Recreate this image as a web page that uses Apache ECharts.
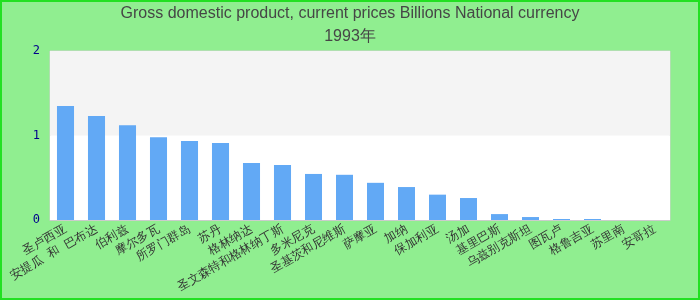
<!DOCTYPE html>
<html>
<head>
<meta charset="utf-8">
<script src="https://cdn.jsdelivr.net/npm/echarts@6/dist/echarts.min.js"></script>
<style>
  html, body { margin: 0; padding: 0; }
  #wrap { position: relative; width: 700px; height: 300px; }
  #chart { position: absolute; left: 0; top: 0; width: 700px; height: 300px; }
  #frame { position: absolute; left: 0; top: 0; width: 700px; height: 300px; box-sizing: border-box; border: 2px solid #22e022; pointer-events: none; }
</style>
</head>
<body>
<div id="wrap"><div id="chart"></div><div id="frame"></div></div>
<script>
const titleText = "Gross domestic product, current prices Billions National currency\n1993年";
const categories = [
  "圣卢西亚", "安提瓜 和 巴布达", "伯利兹", "摩尔多瓦", "所罗门群岛",
  "苏丹", "格林纳达", "圣文森特和格林纳丁斯", "多米尼克", "圣基茨和尼维斯",
  "萨摩亚", "加纳", "保加利亚", "汤加", "基里巴斯",
  "乌兹别克斯坦", "图瓦卢", "格鲁吉亚", "苏里南", "安哥拉"
];
const values = [
  1.35, 1.23, 1.12, 0.98, 0.935,
  0.91, 0.675, 0.65, 0.545, 0.535,
  0.44, 0.39, 0.30, 0.26, 0.07,
  0.035, 0.012, 0.012, 0, 0
];
const yTicks = { min: 0, max: 2, interval: 1 };

const chart = echarts.init(document.getElementById('chart'), null, { renderer: 'canvas' });
chart.setOption({
  backgroundColor: '#90ee90',
  animation: false,
  title: {
    text: titleText,
    left: 'center',
    top: 2,
    padding: 0,
    textStyle: { fontSize: 16, fontWeight: 'normal', color: '#464646', lineHeight: 23, fontFamily: 'Liberation Sans, Arial, sans-serif' }
  },
  grid: {
    left: 50, right: 30, top: 51, bottom: 80,
    show: true, backgroundColor: '#ffffff', borderColor: '#d0d0d0', borderWidth: 1,
    containLabel: false
  },
  xAxis: {
    type: 'category',
    data: categories,
    axisLine: { show: true, lineStyle: { color: '#cccccc', width: 1 } },
    axisTick: { show: false },
    axisLabel: { interval: 0, rotate: 30, margin: 8, fontSize: 12, fontFamily: 'monospace', color: '#333333' }
  },
  yAxis: {
    type: 'value',
    min: yTicks.min, max: yTicks.max, interval: yTicks.interval,
    axisLine: { show: false },
    axisTick: { show: false },
    splitLine: { show: false },
    splitArea: { show: true, areaStyle: { color: ['#ffffff', '#f4f4f4'] } },
    axisLabel: { fontSize: 12, fontFamily: 'monospace', color: '#00008b', margin: 10 }
  },
  series: [{
    type: 'bar',
    data: values,
    barWidth: '55%',
    itemStyle: { color: '#62a9f5' }
  }]
});
</script>
</body>
</html>
